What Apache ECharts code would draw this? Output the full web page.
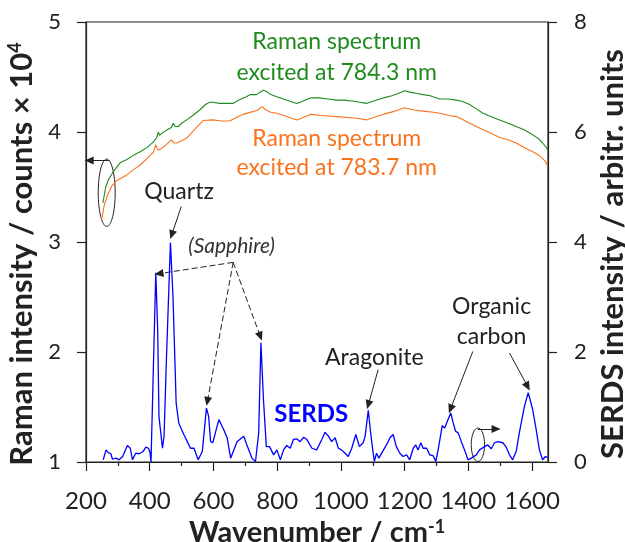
<!DOCTYPE html>
<html><head><meta charset="utf-8">
<script src="https://cdn.jsdelivr.net/npm/echarts@6/dist/echarts.min.js"></script>
<style>html,body{margin:0;padding:0;background:#fff}#c{width:625px;height:542px}</style>
</head><body><div id="c"></div>
<script>
// ---- Data ----
const wn784 = [253,262,271,287,307,328,350,370,392,412,422,427,431,438,455,468,474,480,490,500,516,535,557,575,588,600,619,640,661,680,703,716,735,745,757,765,780,799,820,840,862,880,904,930,960,987,1010,1040,1060,1080,1100,1133,1160,1180,1200,1220,1240,1258,1280,1310,1335,1362,1380,1404,1425,1446,1470,1498,1525,1550,1575,1602,1620,1633,1642,1649];
const int784 = [3.355,3.50,3.57,3.645,3.72,3.75,3.79,3.82,3.86,3.91,3.95,4.00,3.97,3.99,4.02,4.04,4.08,4.05,4.05,4.08,4.11,4.15,4.20,4.25,4.27,4.27,4.26,4.26,4.26,4.29,4.32,4.34,4.34,4.36,4.38,4.37,4.34,4.32,4.30,4.28,4.26,4.28,4.31,4.31,4.30,4.29,4.29,4.28,4.27,4.26,4.28,4.31,4.33,4.35,4.375,4.36,4.35,4.34,4.33,4.30,4.30,4.29,4.28,4.25,4.21,4.17,4.14,4.11,4.08,4.05,4.02,3.975,3.94,3.90,3.87,3.84];

const wn783 = [249,257,266,281,297,328,350,370,392,412,419,425,432,450,469,476,485,500,516,540,568,599,625,651,670,693,729,740,752,765,780,799,830,862,880,904,940,987,1030,1060,1080,1100,1133,1170,1200,1230,1258,1290,1310,1340,1362,1385,1404,1425,1446,1470,1498,1525,1550,1575,1602,1620,1633,1642,1649];
const int783 = [3.20,3.33,3.415,3.51,3.56,3.61,3.66,3.70,3.76,3.82,3.885,3.84,3.84,3.88,3.93,3.90,3.90,3.92,3.945,4.02,4.105,4.11,4.10,4.10,4.13,4.16,4.19,4.20,4.23,4.20,4.18,4.17,4.14,4.11,4.13,4.16,4.15,4.14,4.13,4.12,4.11,4.13,4.16,4.19,4.22,4.20,4.19,4.18,4.17,4.15,4.14,4.11,4.08,4.05,4.02,3.99,3.95,3.93,3.90,3.86,3.82,3.79,3.76,3.73,3.69];

const wnSerds = [254,263,270,278,283,294,304,315,330,339,346,356,367,379,388,396,401,404,419,425,429,440,445,452,465,473,483,491,500,507,518,528,539,552,565,578,585,591,598,606,617,632,643,654,664,674,695,705,721,732,742,749,757,766,776,789,799,810,820,830,841,851,862,872,883,893,909,924,940,950,961,971,982,992,1002,1013,1023,1034,1047,1058,1070,1076,1086,1093,1100,1105,1112,1119,1128,1143,1154,1164,1174,1185,1195,1206,1216,1227,1235,1242,1251,1258,1269,1279,1290,1298,1307,1318,1326,1334,1345,1352,1360,1368,1378,1388,1399,1409,1425,1435,1451,1461,1472,1482,1492,1508,1518,1529,1539,1550,1560,1576,1588,1602,1612,1623,1633,1642,1649];
const serds = [0.04,0.22,0.17,0.15,0.05,0.07,0.04,0.10,0.30,0.25,0.04,0.16,0.15,0.19,0.27,0.25,0.17,0.00,3.44,2.40,0.83,0.25,0.47,1.80,3.99,3.01,1.07,0.71,0.59,0.50,0.37,0.25,0.25,0.04,0.19,0.98,0.83,0.37,0.35,0.53,0.77,0.59,0.44,0.07,0.22,0.37,0.47,0.31,0.07,0.01,0.53,2.17,1.13,0.28,0.28,0.13,0.22,0.04,0.22,0.30,0.25,0.41,0.42,0.37,0.45,0.41,0.25,0.22,0.41,0.54,0.47,0.37,0.44,0.25,0.22,0.16,0.10,0.25,0.50,0.28,0.35,0.47,0.94,0.55,0.22,0.01,0.16,0.07,0.16,0.31,0.44,0.50,0.28,0.16,0.10,0.13,0.04,0.25,0.31,0.22,0.35,0.25,0.25,0.13,0.11,0.01,0.28,0.66,0.62,0.74,0.89,0.72,0.56,0.53,0.37,0.22,0.04,0.07,0.13,0.22,0.28,0.31,0.24,0.35,0.37,0.35,0.28,0.13,0.04,0.19,0.53,1.01,1.26,0.95,0.62,0.22,0.04,0.10,0.08];

const xMajorTicks = [200,400,600,800,1000,1200,1400,1600];
const xMinorTicks = [300,500,700,900,1100,1300,1500];

// annotation texts: [text, wavenumber, left-axis intensity, kind]
const labelTexts = [
  ['Raman spectrum', 987, 4.821, 'green'],
  ['excited at 784.3 nm', 987, 4.539, 'green'],
  ['Raman spectrum', 987, 3.944, 'orange'],
  ['excited at 783.7 nm', 987, 3.675, 'orange'],
  ['Quartz', 492, 3.457, 'black'],
  ['(Sapphire)', 657, 2.962, 'italic'],
  ['Aragonite', 1105, 1.953, 'black'],
  ['Organic', 1473, 2.412, 'black'],
  ['carbon', 1473, 2.139, 'black'],
  ['SERDS', 907, 1.43, 'blue']
];
// arrows: [from w, from v, to w, to v, dashed]
const arrows = [
  [499, 3.323, 469, 3.066, false],
  [662, 2.815, 429, 2.712, true],
  [662, 2.815, 581, 1.551, true],
  [662, 2.815, 747, 2.142, true],
  [1117, 1.839, 1086, 1.521, false],
  [1414, 2.005, 1344, 1.482, false],
  [1529, 1.991, 1586, 1.687, false],
  [273, 3.742, 210, 3.742, false],
  [1430, 1.30, 1487, 1.30, false]
];
// ellipses: [center w, center v, half-width w, half-height v]
const ellipses = [
  [265, 3.448, 26.6, 0.306],
  [1430, 1.157, 21, 0.152]
];

const zip = (a, b) => a.map((x, i) => [x, b[i]]);
const FONT = 'Lato, "Open Sans", sans-serif';
const AX = '#222';
const GREEN = '#1f8b1f', ORANGE = '#f9731e', BLUE = '#0000ff';

const chart = echarts.init(document.getElementById('c'), null, {renderer: 'canvas'});

const supStyle = {fontSize: 18, fontWeight: 'bold', color: AX, fontFamily: FONT, verticalAlign: 'top', padding: [0, 0, 12, 0]};

const option = {
  animation: false,
  backgroundColor: '#fff',
  grid: {left: 86, right: 77, top: 22, bottom: 80, show: true, borderColor: AX, borderWidth: 1.2,
         containLabel: false, outerBoundsMode: 'none'},
  xAxis: [{
    type: 'value', min: 200, max: 1650, position: 'bottom',
    axisLine: {show: true, onZero: false, lineStyle: {color: AX, width: 1.2}},
    axisTick: {show: true, customValues: xMajorTicks, length: 9, lineStyle: {color: AX, width: 1.2}},
    axisLabel: {customValues: xMajorTicks, fontSize: 24, color: AX, fontFamily: FONT, margin: 27,
                formatter: v => String(v)},
    splitLine: {show: false},
    name: 'Wavenumber / cm{sup|-1}', nameLocation: 'middle', nameGap: 53,
    nameTextStyle: {fontSize: 29, fontWeight: 'bold', color: AX, fontFamily: FONT, rich: {sup: supStyle}}
  }, {
    type: 'value', min: 200, max: 1650, position: 'bottom',
    axisLine: {show: false},
    axisTick: {show: true, customValues: xMinorTicks, length: 4, lineStyle: {color: AX, width: 1.2}},
    axisLabel: {show: false}, splitLine: {show: false}
  }],
  yAxis: [{
    type: 'value', min: 1, max: 5, interval: 1, position: 'left',
    axisLine: {show: true, onZero: false, lineStyle: {color: AX, width: 1.2}},
    axisTick: {show: true, length: 9, lineStyle: {color: AX, width: 1.2}},
    axisLabel: {fontSize: 22, color: AX, fontFamily: FONT, margin: 25},
    splitLine: {show: false},
    name: 'Raman intensity / counts × 10{sup|4}', nameLocation: 'middle', nameGap: 49, nameRotate: 90,
    nameTextStyle: {fontSize: 31, fontWeight: 'bold', color: AX, fontFamily: FONT, padding: [0, 24, 0, 0],
      rich: {sup: supStyle}}
  }, {
    type: 'value', min: 0, max: 8, interval: 2, position: 'right',
    axisLine: {show: true, onZero: false, lineStyle: {color: AX, width: 1.2}},
    axisTick: {show: true, length: 9, lineStyle: {color: AX, width: 1.2}},
    axisLabel: {fontSize: 22, color: AX, fontFamily: FONT, margin: 26},
    splitLine: {show: false},
    name: 'SERDS intensity / arbitr. units', nameLocation: 'middle', nameGap: 48, nameRotate: 90,
    nameTextStyle: {fontSize: 31, fontWeight: 'bold', color: AX, fontFamily: FONT, padding: [0, 24, 0, 0]}
  }],
  series: [
    {type: 'line', name: 'Raman 784.3 nm', xAxisIndex: 0, yAxisIndex: 0, data: zip(wn784, int784),
     showSymbol: false, symbol: 'none', silent: true, lineStyle: {color: GREEN, width: 1.1}},
    {type: 'line', name: 'Raman 783.7 nm', xAxisIndex: 0, yAxisIndex: 0, data: zip(wn783, int783),
     showSymbol: false, symbol: 'none', silent: true, lineStyle: {color: ORANGE, width: 1.1}},
    {type: 'line', name: 'SERDS', xAxisIndex: 0, yAxisIndex: 1, data: zip(wnSerds, serds),
     showSymbol: false, symbol: 'none', silent: true, lineStyle: {color: BLUE, width: 1.3}},
    {type: 'line', name: 'annotations', xAxisIndex: 0, yAxisIndex: 0, data: [], silent: true,
     markLine: {
       silent: true, animation: false, symbol: ['none', 'triangle'], symbolSize: [8, 9], precision: 4,
       label: {show: false},
       emphasis: {disabled: true},
       data: arrows.map(a => [
         {coord: [a[0], a[1]], lineStyle: {color: '#222', width: 1, type: a[4] ? [6, 3] : 'solid'}, itemStyle: {color: '#222'}},
         {coord: [a[2], a[3]]}
       ])
     }}
  ]
};
chart.setOption(option);

const styleFor = k => {
  if (k === 'green') return {fill: GREEN, font: '23px ' + FONT};
  if (k === 'orange') return {fill: ORANGE, font: '23px ' + FONT};
  if (k === 'blue') return {fill: BLUE, font: 'bold 24px ' + FONT};
  if (k === 'italic') return {fill: '#333', font: 'italic 21px ' + FONT};
  return {fill: '#222', font: '23px ' + FONT};
};
const toPx = (w, v) => chart.convertToPixel({xAxisIndex: 0, yAxisIndex: 0}, [w, v]);
const elements = [];
labelTexts.forEach(t => {
  const p = toPx(t[1], t[2]);
  const s = styleFor(t[3]);
  elements.push({type: 'text', x: p[0], y: p[1], silent: true,
    style: Object.assign({text: t[0], align: 'center', verticalAlign: 'middle', textAlign: 'center', textVerticalAlign: 'middle'}, s)});
});
ellipses.forEach(e => {
  const c = toPx(e[0], e[1]);
  const r = toPx(e[0] + e[2], e[1] + e[3]);
  elements.push({type: 'ellipse', silent: true, shape: {cx: c[0], cy: c[1], rx: Math.abs(r[0] - c[0]), ry: Math.abs(c[1] - r[1])},
    style: {fill: 'none', stroke: '#222', lineWidth: 1}});
});
chart.setOption({graphic: {elements: elements}});
</script></body></html>
